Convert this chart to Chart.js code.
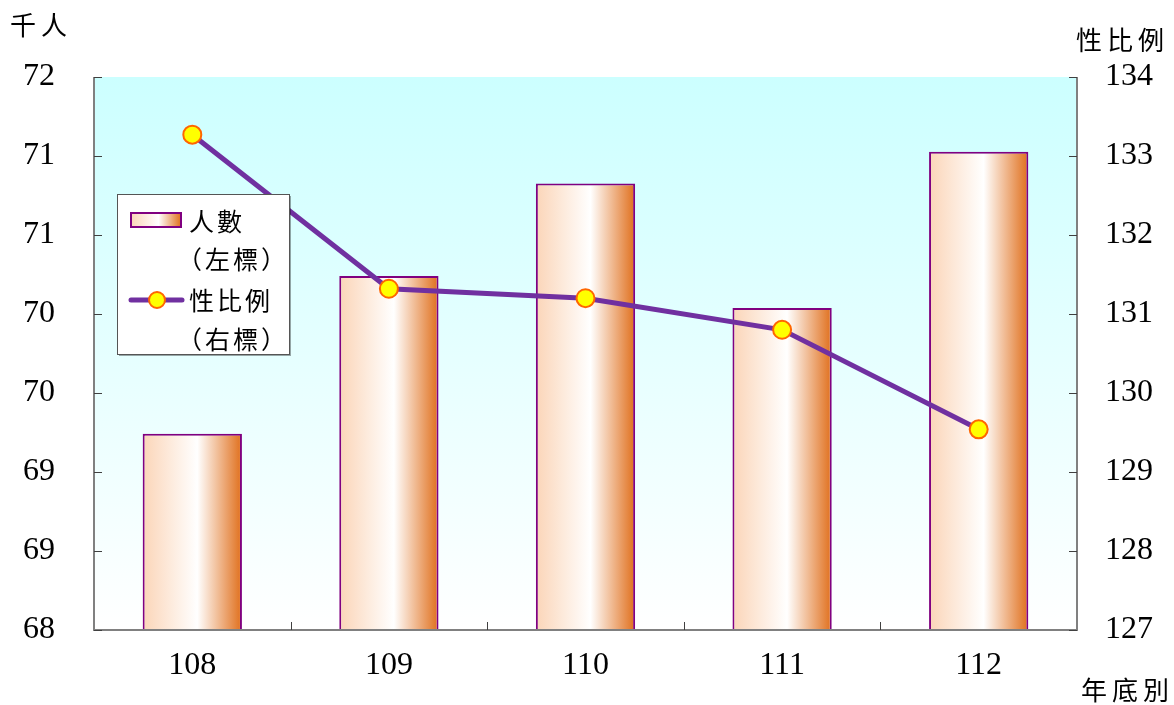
<!doctype html>
<html>
<head>
<meta charset="utf-8">
<title>人數與性比例</title>
<script src="https://cdn.jsdelivr.net/npm/chart.js@4"></script>
<style>
body { margin: 0; background: #fff; }
</style>
</head>
<body>
<canvas id="chart-area" width="1174" height="705"></canvas>
<script>
// data
var years = ['108', '109', '110', '111', '112'];
var people = [69.42, 70.56, 71.23, 70.33, 71.46];      // 千人, left axis
var sexRatio = [133.27, 131.32, 131.20, 130.80, 129.54]; // right axis
var leftTickLabels = ['68', '69', '69', '70', '70', '71', '71', '72'];
var rightTickLabels = ['127', '128', '129', '130', '131', '132', '133', '134'];

var numFont = '"Liberation Serif", "DejaVu Serif", serif';
var cjkFont = '"Noto Sans CJK TC", sans-serif';

function barGradient(ctx, x0, x1) {
    var g = ctx.createLinearGradient(x0, 0, x1, 0);
    g.addColorStop(0, '#fbd5b8');
    g.addColorStop(0.55, '#ffffff');
    g.addColorStop(1, '#e06f1c');
    return g;
}

var decor = {
    id: 'decor',
    beforeDraw: function (chart) {
        var a = chart.chartArea, ctx = chart.ctx;
        var g = ctx.createLinearGradient(0, a.top, 0, a.bottom);
        g.addColorStop(0, '#ccffff');
        g.addColorStop(1, '#ffffff');
        ctx.save();
        ctx.fillStyle = g;
        ctx.fillRect(a.left, a.top, a.right - a.left, a.bottom - a.top);
        ctx.restore();
    },
    afterDraw: function (chart) {
        var a = chart.chartArea, ctx = chart.ctx;
        var y = chart.scales.y, y1 = chart.scales.y1, x = chart.scales.x;
        ctx.save();
        // axis lines
        ctx.strokeStyle = '#808080';
        ctx.lineWidth = 2;
        ctx.beginPath();
        ctx.moveTo(a.left, a.top); ctx.lineTo(a.left, a.bottom);
        ctx.lineTo(a.right, a.bottom); ctx.lineTo(a.right, a.top);
        ctx.stroke();
        // inward ticks
        ctx.strokeStyle = '#404040';
        ctx.lineWidth = 1;
        ctx.beginPath();
        y.ticks.forEach(function (t) {
            var p = Math.round(y.getPixelForValue(t.value)) + 0.5;
            ctx.moveTo(a.left, p); ctx.lineTo(a.left + 8, p);
        });
        y1.ticks.forEach(function (t) {
            var p = Math.round(y1.getPixelForValue(t.value)) + 0.5;
            ctx.moveTo(a.right - 8, p); ctx.lineTo(a.right, p);
        });
        var half = (x.getPixelForValue(1) - x.getPixelForValue(0)) / 2;
        for (var i = 1; i < years.length; i++) {
            var px = Math.round(x.getPixelForValue(i) - half) + 0.5;
            ctx.moveTo(px, a.bottom); ctx.lineTo(px, a.bottom - 8);
        }
        ctx.stroke();

        // axis titles
        ctx.fillStyle = '#000';
        ctx.font = '26px ' + cjkFont;
        ctx.textBaseline = 'middle';
        ctx.letterSpacing = '5px';
        ctx.textAlign = 'left';
        ctx.fillText('千人', 10, 25);
        ctx.fillText('性比例', 1076, 40);
        ctx.fillText('年底別', 1081, 690);

        // legend
        var lx = 117, ly = 194, lw = 172, lh = 160;
        ctx.fillStyle = 'rgba(0,0,0,0.35)';
        ctx.fillRect(lx + 2, ly + 2, lw, lh);
        ctx.fillStyle = '#fff';
        ctx.fillRect(lx, ly, lw, lh);
        ctx.strokeStyle = '#555';
        ctx.lineWidth = 1;
        ctx.strokeRect(lx + 0.5, ly + 0.5, lw, lh);

        ctx.fillStyle = barGradient(ctx, 131, 181);
        ctx.fillRect(131, 213, 50, 14);
        ctx.strokeStyle = '#800080';
        ctx.lineWidth = 2;
        ctx.strokeRect(131, 213, 50, 14);

        ctx.strokeStyle = '#7030a0';
        ctx.lineWidth = 5;
        ctx.lineCap = 'round';
        ctx.beginPath();
        ctx.moveTo(131, 300); ctx.lineTo(182, 300);
        ctx.stroke();
        ctx.beginPath();
        ctx.arc(157, 300, 8, 0, Math.PI * 2);
        ctx.fillStyle = '#ffff00';
        ctx.fill();
        ctx.strokeStyle = '#ff6600';
        ctx.lineWidth = 2;
        ctx.stroke();

        ctx.fillStyle = '#000';
        ctx.font = '25px ' + cjkFont;
        ctx.letterSpacing = '3px';
        ctx.fillText('人數', 189, 221);
        ctx.fillText('（左標）', 177, 259);
        ctx.fillText('性比例', 189, 300);
        ctx.fillText('（右標）', 177, 339);
        ctx.restore();
    }
};

var config = {
    data: {
        labels: years,
        datasets: [{
            type: 'line',
            label: '性比例（右標）',
            data: sexRatio,
            yAxisID: 'y1',
            order: 0,
            borderColor: '#7030a0',
            borderWidth: 5,
            pointRadius: 9,
            pointHoverRadius: 9,
            pointBackgroundColor: '#ffff00',
            pointBorderColor: '#ff6600',
            pointBorderWidth: 2,
            tension: 0
        }, {
            type: 'bar',
            label: '人數（左標）',
            data: people,
            yAxisID: 'y',
            order: 1,
            categoryPercentage: 1,
            barPercentage: 0.505,
            borderColor: '#800080',
            borderWidth: 2,
            borderSkipped: false,
            backgroundColor: function (c) {
                var ch = c.chart;
                if (!ch.chartArea || !ch.scales.x) return '#f5b888';
                var w = (ch.scales.x.getPixelForValue(1) - ch.scales.x.getPixelForValue(0)) * 0.505;
                var cx = ch.scales.x.getPixelForValue(c.dataIndex);
                return barGradient(ch.ctx, cx - w / 2, cx + w / 2);
            }
        }]
    },
    options: {
        responsive: false,
        animation: false,
        layout: { padding: { top: 77 } },
        plugins: {
            legend: { display: false },
            tooltip: { enabled: false }
        },
        scales: {
            x: {
                grid: { display: false, drawTicks: false },
                border: { display: false },
                ticks: { color: '#000', padding: 16, font: { family: numFont, size: 32 } },
                afterFit: function (s) { s.height = 75; }
            },
            y: {
                position: 'left',
                min: 68,
                max: 72,
                grid: { display: false, drawTicks: false },
                border: { display: false },
                afterBuildTicks: function (s) {
                    s.ticks = leftTickLabels.map(function (l, i) {
                        return { value: 68 + i * 4 / 7 };
                    });
                },
                ticks: {
                    color: '#000',
                    padding: 39,
                    font: { family: numFont, size: 32 },
                    callback: function (v, i) { return leftTickLabels[i]; }
                },
                afterFit: function (s) { s.width = 94; }
            },
            y1: {
                position: 'right',
                min: 127,
                max: 134,
                grid: { display: false, drawTicks: false },
                border: { display: false },
                ticks: {
                    color: '#000',
                    stepSize: 1,
                    padding: 28,
                    font: { family: numFont, size: 32 },
                    callback: function (v, i) { return rightTickLabels[i]; }
                },
                afterFit: function (s) { s.width = 97; }
            }
        }
    },
    plugins: [decor]
};

window.onload = function () {
    var ctx = document.getElementById('chart-area').getContext('2d');
    window.myChart = new Chart(ctx, config);
};
</script>
</body>
</html>
